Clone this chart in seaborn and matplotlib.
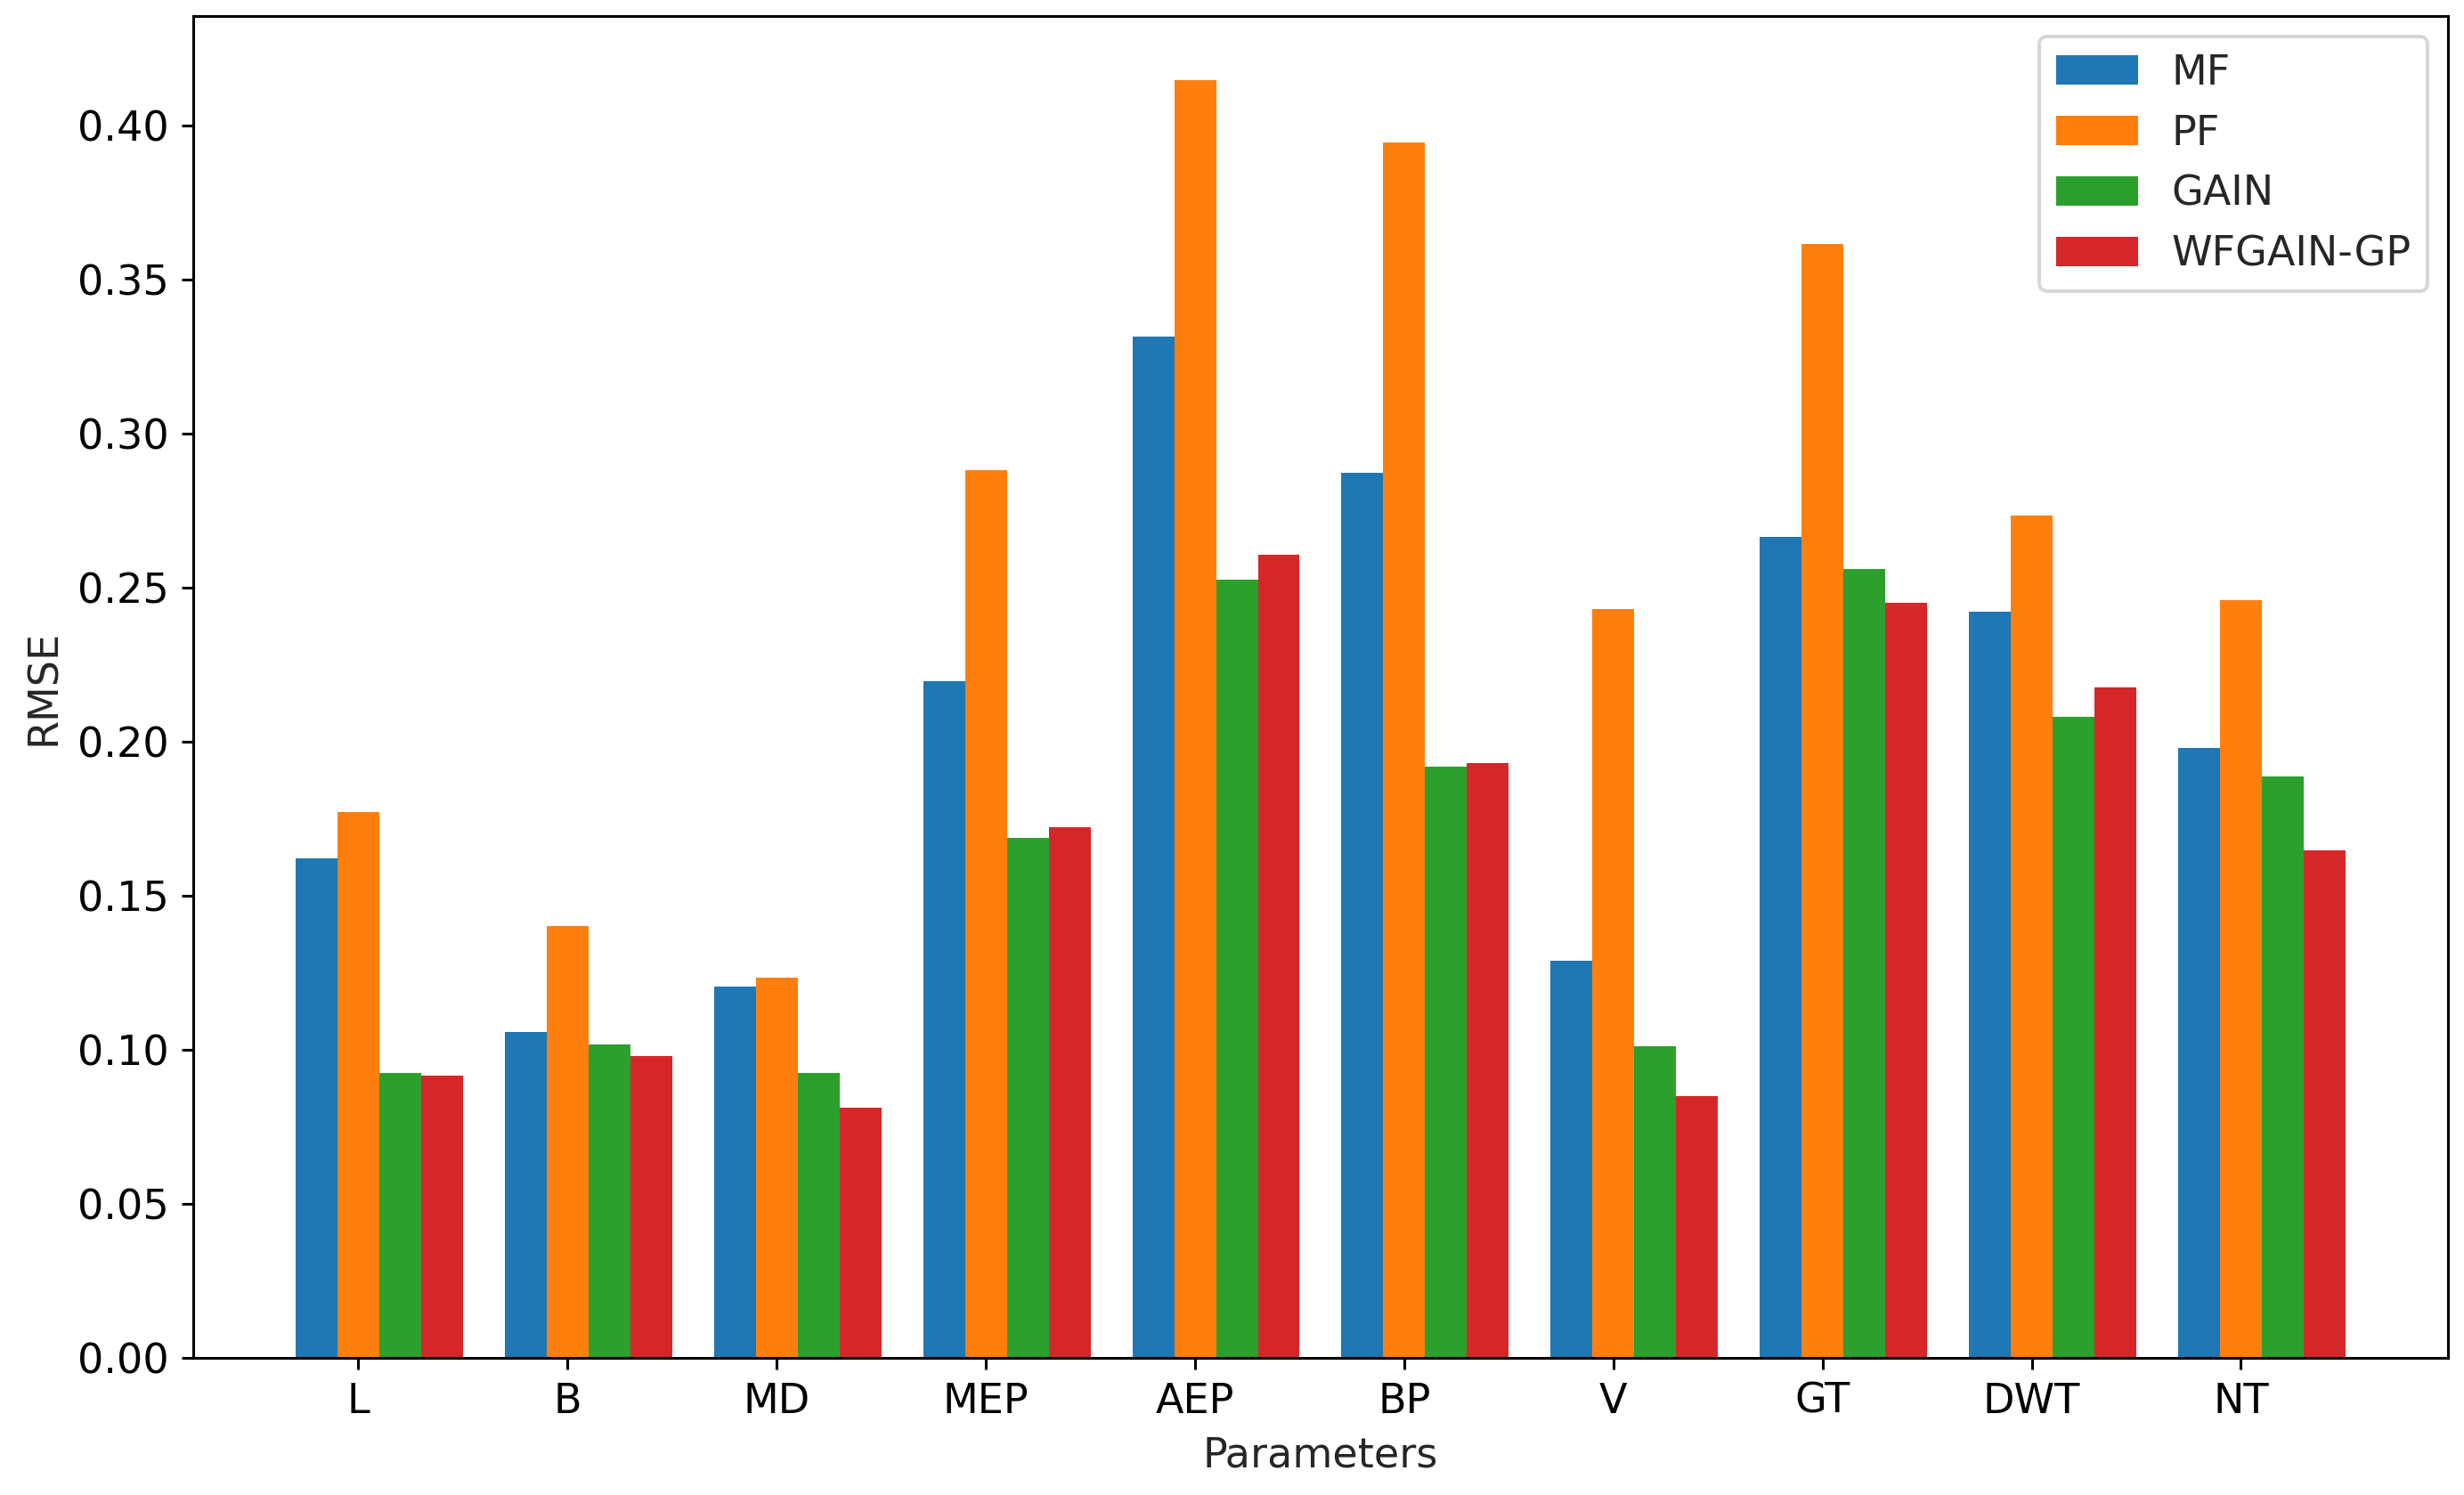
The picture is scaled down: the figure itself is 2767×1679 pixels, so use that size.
import numpy as np
import pandas as pd
import matplotlib
matplotlib.use("Agg")
import matplotlib.pyplot as plt
import seaborn as sns

categories = ["L", "B", "MD", "MEP", "AEP", "BP", "V", "GT", "DWT", "NT"]
methods = ["MF", "PF", "GAIN", "WFGAIN-GP"]
mf = [0.162, 0.1057, 0.1205, 0.2196, 0.3314, 0.2872, 0.129, 0.2663, 0.242, 0.198]
pf = [0.177, 0.140, 0.1235, 0.288, 0.4147, 0.3944, 0.243, 0.3614, 0.2734, 0.246]
gain = [0.0925, 0.1017, 0.0925, 0.1687, 0.2526, 0.192, 0.101, 0.256, 0.2079, 0.1886]
wfgain = [0.0915, 0.098, 0.0813, 0.1723, 0.2607, 0.193, 0.0849, 0.245, 0.2175, 0.1647]

df = pd.DataFrame({
    "Parameters": categories * 4,
    "Method": sum([[m] * len(categories) for m in methods], []),
    "RMSE": mf + pf + gain + wfgain,
})

sns.set_style("ticks")
plt.rcParams["font.family"] = ["DejaVu Sans"]
plt.rcParams["font.size"] = 12

dpi = 277
fig = plt.figure(figsize=(2767 / dpi, 1679 / dpi), dpi=dpi)
ax = fig.add_axes([0.0784, 0.0917, 0.9151, 0.8976])

palette = ["#1f77b4", "#ff7f0e", "#2ca02c", "#d62728"]
sns.barplot(data=df, x="Parameters", y="RMSE", hue="Method", order=categories,
            hue_order=methods, palette=palette, width=0.8, saturation=1,
            errorbar=None, ax=ax, edgecolor="none", linewidth=0)

n = len(categories)
ax.set_xticks(np.arange(n) - 0.1)
ax.set_xticklabels(categories)
ax.set_xlim(-0.89, n - 1 + 0.89)
ax.set_ylim(0, max(pf) * 1.05)
yt = np.arange(0, 0.41, 0.05)
ax.set_yticks(yt)
ax.set_yticklabels([f"{v:.2f}" for v in yt])
ax.set_xlabel("Parameters", fontsize=12)
ax.set_ylabel("RMSE", fontsize=12)
for s in ax.spines.values():
    s.set_visible(True)
    s.set_color("black")
    s.set_linewidth(0.8)
ax.tick_params(colors="black", length=3.5, width=0.8, labelsize=12)
ax.legend(loc="upper right", frameon=True, title=None, fontsize=12)

fig.savefig("out.png", dpi=dpi)
